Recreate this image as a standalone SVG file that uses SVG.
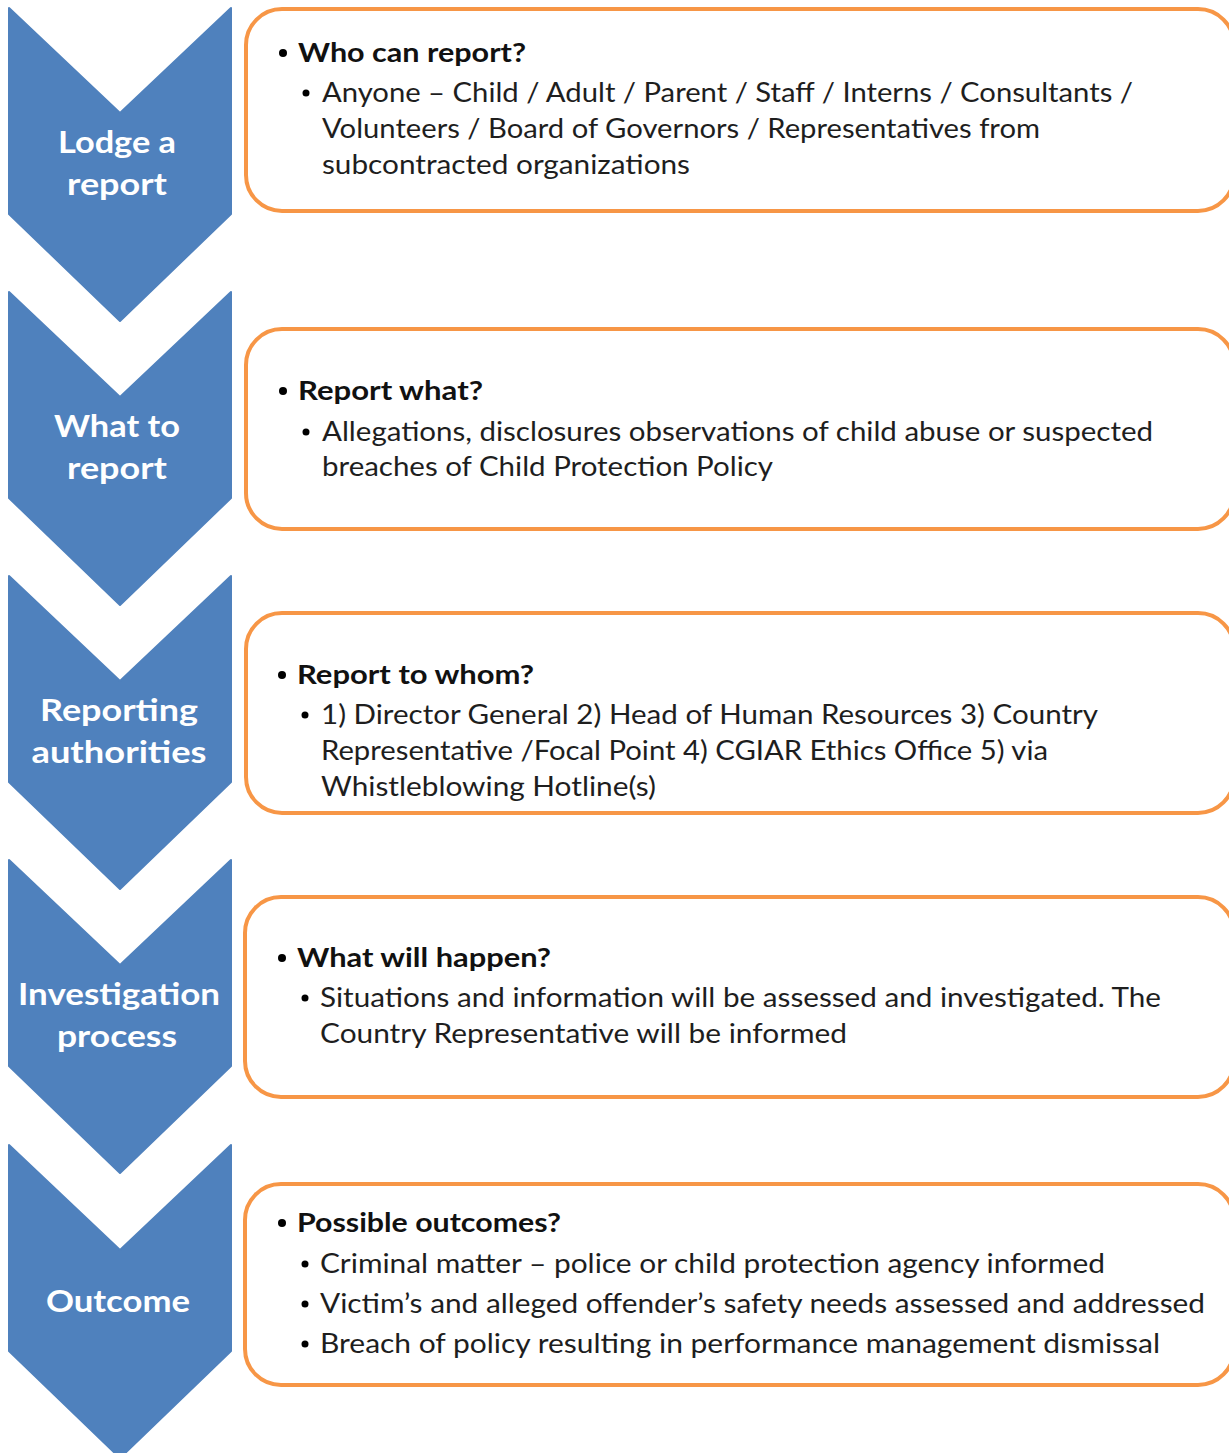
<svg xmlns="http://www.w3.org/2000/svg" width="1229" height="1453" viewBox="0 0 1229 1453">
<style>
.chev{fill:#4F81BD;stroke:#4F81BD;stroke-width:2;stroke-linejoin:round}
.lbl{font-family:Lato,"Open Sans","Liberation Sans",sans-serif;font-weight:bold;font-size:30px;fill:#ffffff;text-anchor:middle}
.box{fill:#ffffff;stroke:#F79646;stroke-width:4}
.hd{font-family:Lato,"Open Sans","Liberation Sans",sans-serif;font-weight:bold;font-size:26px;fill:#111111}
.tx{font-family:Lato,"Open Sans","Liberation Sans",sans-serif;font-size:26px;fill:#1e1e1e}
.b1{fill:#000000}
</style>
<rect width="1229" height="1453" fill="#ffffff"/>

<g id="connectors"></g>

<g id="step1">
<polygon class="chev" points="9,8 120,113 231,8 231,214 120,321 9,214"/>
<text class="lbl" x="117" y="153" textLength="118" lengthAdjust="spacingAndGlyphs">Lodge a</text>
<text class="lbl" x="117" y="195" textLength="100" lengthAdjust="spacingAndGlyphs">report</text>
</g>
<g id="box1">
<rect class="box" x="246" y="9" width="988" height="202" rx="36"/>
<circle class="b1" cx="283" cy="53" r="4"/>
<text class="hd" x="298" y="62" textLength="228" lengthAdjust="spacingAndGlyphs">Who can report?</text>
<circle class="b1" cx="306" cy="93" r="3.5"/>
<text class="tx" x="322" y="102" textLength="811" lengthAdjust="spacingAndGlyphs">Anyone – Child / Adult / Parent / Staff / Interns / Consultants /</text>
<text class="tx" x="322" y="138" textLength="718" lengthAdjust="spacingAndGlyphs">Volunteers / Board of Governors / Representatives from</text>
<text class="tx" x="322" y="174" textLength="368" lengthAdjust="spacingAndGlyphs">subcontracted organizations</text>
</g>

<g id="step2">
<polygon class="chev" points="9,292 120,397 231,292 231,498 120,605 9,498"/>
<text class="lbl" x="117" y="437" textLength="126" lengthAdjust="spacingAndGlyphs">What to</text>
<text class="lbl" x="117" y="479" textLength="100" lengthAdjust="spacingAndGlyphs">report</text>
</g>
<g id="box2">
<rect class="box" x="246" y="329" width="988" height="200" rx="36"/>
<circle class="b1" cx="283" cy="391" r="4"/>
<text class="hd" x="298" y="400" textLength="185" lengthAdjust="spacingAndGlyphs">Report what?</text>
<circle class="b1" cx="306" cy="432" r="3.5"/>
<text class="tx" x="322" y="441" textLength="831" lengthAdjust="spacingAndGlyphs">Allegations, disclosures observations of child abuse or suspected</text>
<text class="tx" x="322" y="476" textLength="451" lengthAdjust="spacingAndGlyphs">breaches of Child Protection Policy</text>
</g>

<g id="step3">
<polygon class="chev" points="9,576 120,681 231,576 231,782 120,889 9,782"/>
<text class="lbl" x="119" y="721" textLength="158" lengthAdjust="spacingAndGlyphs">Reporting</text>
<text class="lbl" x="119" y="763" textLength="175" lengthAdjust="spacingAndGlyphs">authorities</text>
</g>
<g id="box3">
<rect class="box" x="246" y="613" width="988" height="200" rx="36"/>
<circle class="b1" cx="282" cy="675" r="4"/>
<text class="hd" x="297" y="684" textLength="237" lengthAdjust="spacingAndGlyphs">Report to whom?</text>
<circle class="b1" cx="305" cy="715" r="3.5"/>
<text class="tx" x="321" y="724" textLength="777" lengthAdjust="spacingAndGlyphs">1) Director General 2) Head of Human Resources 3) Country</text>
<text class="tx" x="321" y="760" textLength="727" lengthAdjust="spacingAndGlyphs">Representative /Focal Point 4) CGIAR Ethics Office 5) via</text>
<text class="tx" x="321" y="796" textLength="335" lengthAdjust="spacingAndGlyphs">Whistleblowing Hotline(s)</text>
</g>

<g id="step4">
<polygon class="chev" points="9,860 120,965 231,860 231,1066 120,1173 9,1066"/>
<text class="lbl" x="119" y="1005" textLength="202" lengthAdjust="spacingAndGlyphs">Investigation</text>
<text class="lbl" x="117" y="1047" textLength="120" lengthAdjust="spacingAndGlyphs">process</text>
</g>
<g id="box4">
<rect class="box" x="245" y="897" width="989" height="200" rx="36"/>
<circle class="b1" cx="282" cy="958" r="4"/>
<text class="hd" x="297" y="967" textLength="254" lengthAdjust="spacingAndGlyphs">What will happen?</text>
<circle class="b1" cx="305" cy="998" r="3.5"/>
<text class="tx" x="320" y="1007" textLength="841" lengthAdjust="spacingAndGlyphs">Situations and information will be assessed and investigated. The</text>
<text class="tx" x="320" y="1043" textLength="527" lengthAdjust="spacingAndGlyphs">Country Representative will be informed</text>
</g>

<g id="step5">
<polygon class="chev" points="9,1145 120,1250 231,1145 231,1351 120,1458 9,1351"/>
<text class="lbl" x="118" y="1312" textLength="144" lengthAdjust="spacingAndGlyphs">Outcome</text>
</g>
<g id="box5">
<rect class="box" x="245" y="1184" width="989" height="201" rx="36"/>
<circle class="b1" cx="282" cy="1223" r="4"/>
<text class="hd" x="297" y="1232" textLength="264" lengthAdjust="spacingAndGlyphs">Possible outcomes?</text>
<circle class="b1" cx="305" cy="1264" r="3.5"/>
<text class="tx" x="320" y="1273" textLength="785" lengthAdjust="spacingAndGlyphs">Criminal matter – police or child protection agency informed</text>
<circle class="b1" cx="305" cy="1304" r="3.5"/>
<text class="tx" x="320" y="1313" textLength="885" lengthAdjust="spacingAndGlyphs">Victim’s and alleged offender’s safety needs assessed and addressed</text>
<circle class="b1" cx="305" cy="1344" r="3.5"/>
<text class="tx" x="320" y="1353" textLength="840" lengthAdjust="spacingAndGlyphs">Breach of policy resulting in performance management dismissal</text>
</g>
</svg>
